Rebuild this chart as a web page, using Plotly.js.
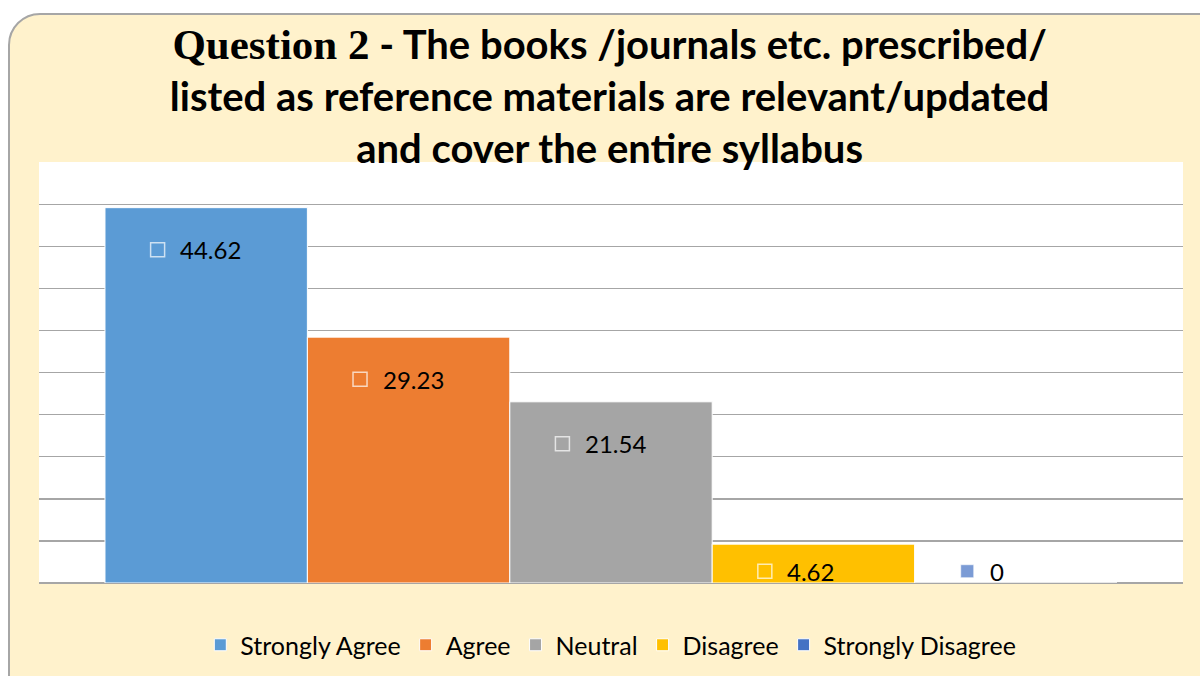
<!DOCTYPE html>
<html>
<head>
<meta charset="utf-8">
<script src="https://cdn.plot.ly/plotly-3.0.1.min.js"></script>
<style>
  html, body { margin: 0; padding: 0; background: #ffffff; width: 1200px; height: 676px; overflow: hidden; }
  #frame { position: absolute; left: 8px; top: 13px; width: 1230px; height: 700px; background: #FFF2CC; border: 2px solid #A6A6A6; border-radius: 32px; box-sizing: border-box; }
  #chart { position: absolute; left: 0; top: 0; width: 1200px; height: 676px; }
</style>
</head>
<body>
<div id="frame"></div>
<div id="chart"></div>
<script>
const categories = ['Strongly Agree', 'Agree', 'Neutral', 'Disagree', 'Strongly Disagree'];
const values = [44.62, 29.23, 21.54, 4.62, 0];
const colors = ['#5B9BD5', '#ED7D31', '#A5A5A5', '#FFC000', '#4472C4'];
const valueLabels = ['44.62', '29.23', '21.54', '4.62', '0'];
const yTicks = [0, 5, 10, 15, 20, 25, 30, 35, 40, 45, 50];

const FONT = 'Lato, "Noto Sans", sans-serif';

const traces = categories.map((c, i) => ({
  type: 'bar',
  name: c,
  x: [i],
  y: [values[i]],
  width: [1],
  marker: { color: colors[i], line: { color: '#ffffff', width: 1 } },
  hoverinfo: 'skip'
}));

const labelY = values.map(v => (v >= 10 ? v - 5 : 1.4));

traces.push({
  type: 'scatter',
  mode: 'markers',
  x: values.map((v, i) => i - 0.24),
  y: labelY,
  showlegend: false,
  hoverinfo: 'skip',
  marker: {
    symbol: 'square',
    size: values.map(v => (v > 0 ? 14 : 13)),
    color: colors,
    line: { color: '#ffffff', width: values.map(v => (v > 0 ? 1.5 : 0.6)) }
  }
});

const annotations = values.map((v, i) => ({
  x: i, y: labelY[i], xref: 'x', yref: 'y',
  text: valueLabels[i], showarrow: false,
  xanchor: 'left', yanchor: 'middle', xshift: -28,
  font: { family: FONT, size: 24, color: '#000000' }
}));

const layout = {
  width: 1200, height: 676,
  margin: { l: 39, r: 17, t: 162, b: 93, autoexpand: false },
  paper_bgcolor: 'rgba(0,0,0,0)',
  plot_bgcolor: '#ffffff',
  barmode: 'overlay',
  showlegend: true,
  title: {
    text: '<span style="font-family:\'Liberation Serif\',serif;font-size:43px">Question 2</span> - The books /journals etc. prescribed/<br>listed as reference materials are relevant/updated<br>and cover the entire syllabus',
    font: { family: FONT, size: 40, color: '#000000', weight: 'bold' },
    x: 0.508, xanchor: 'center',
    y: 1 - 59 / 676, yanchor: 'middle', yref: 'container'
  },
  xaxis: {
    range: [-0.826, 4.826], showticklabels: false, showgrid: false, zeroline: false, fixedrange: true
  },
  yaxis: {
    range: [0, 50.05], tickvals: yTicks, showticklabels: false, ticks: '',
    showgrid: true, gridcolor: '#A6A6A6', gridwidth: 1.3,
    zeroline: true, zerolinecolor: '#A6A6A6', zerolinewidth: 1.6, fixedrange: true
  },
  legend: {
    orientation: 'h', x: 0.509, xanchor: 'center', xref: 'container',
    y: 1 - 645 / 676, yanchor: 'middle', yref: 'container',
    font: { family: FONT, size: 25, color: '#000000' },
    bgcolor: 'rgba(0,0,0,0)', itemclick: false, itemdoubleclick: false
  },
  annotations: annotations
};

Plotly.newPlot('chart', traces, layout, { displayModeBar: false, staticPlot: true });
</script>
</body>
</html>
